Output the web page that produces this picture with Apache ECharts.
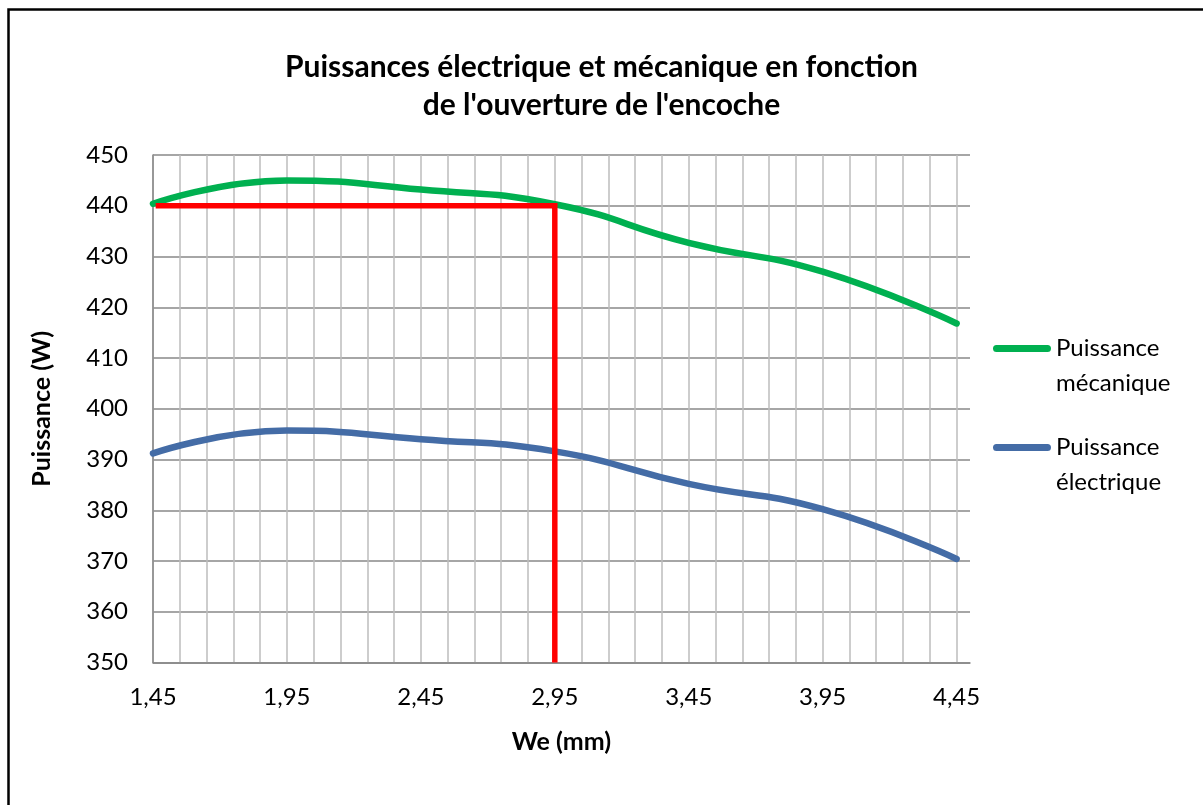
<!DOCTYPE html>
<html>
<head>
<meta charset="utf-8">
<title>Puissances électrique et mécanique</title>
<script src="https://cdn.jsdelivr.net/npm/echarts@6/dist/echarts.min.js"></script>
<style>
  html, body { margin: 0; padding: 0; background: #ffffff; }
  #chart { width: 1203px; height: 805px; }
</style>
</head>
<body>
<div id="chart"></div>
<script>
// Slot opening We (mm) and the two measured power curves (W)
const openings = [1.45, 1.95, 2.45, 2.95, 3.45, 3.95, 4.45];
const puissanceMecanique = [440.4, 445.0, 443.2, 440.3, 432.7, 427.0, 416.8];
const puissanceElectrique = [391.2, 395.7, 394.0, 391.6, 385.2, 380.2, 370.4];

// Operating point guide (red): horizontal at 440 W up to We = 2,95 mm, then down to the axis
const guideX = [1.46, 2.95, 2.95];
const guideY = [440, 440, 350];

// Axis ticks
const xTickValues = [1.45, 1.95, 2.45, 2.95, 3.45, 3.95, 4.45];
const xTickLabels = ['1,45', '1,95', '2,45', '2,95', '3,45', '3,95', '4,45'];
const yTickValues = [350, 360, 370, 380, 390, 400, 410, 420, 430, 440, 450];

const seriesNames = ['Puissance\nmécanique', 'Puissance\nélectrique'];
const seriesColors = ['#00b050', '#446ca6'];
const titleText = "Puissances électrique et mécanique en fonction\nde l'ouverture de l'encoche";

const FONT = 'Lato, "Open Sans", sans-serif';

// pill-shaped legend key, like a thick line with round ends
const PILL = 'path://M3.5,0 L54.5,0 A3.5,3.5 0 0 1 54.5,7 L3.5,7 A3.5,3.5 0 0 1 3.5,0 Z';

const pairs = (xs, ys) => xs.map((x, i) => [x, ys[i]]);

const chart = echarts.init(document.getElementById('chart'), null, { renderer: 'canvas' });

chart.setOption({
  animation: false,
  backgroundColor: '#ffffff',
  title: {
    text: titleText,
    left: 'center',
    top: 43,
    textStyle: {
      fontFamily: FONT,
      fontWeight: 'bold',
      fontSize: 30,
      lineHeight: 38,
      color: '#000000'
    }
  },
  legend: {
    orient: 'vertical',
    left: 993,
    top: 296,
    padding: 0,
    itemWidth: 58,
    itemHeight: 7,
    itemGap: -6,
    icon: PILL,
    data: seriesNames.map((n, i) => ({ name: n, itemStyle: { color: seriesColors[i] } })),
    // a leading blank line keeps the key level with the first text line
    formatter: function (name) { return '\n' + name; },
    textStyle: {
      fontFamily: FONT,
      fontSize: 24,
      lineHeight: 35,
      color: '#000000'
    }
  },
  grid: {
    left: 153,
    right: 233,
    top: 155,
    bottom: 142.5,
    containLabel: false
  },
  xAxis: {
    type: 'value',
    min: 1.45,
    max: 4.5,
    interval: 0.05,
    name: 'We (mm)',
    nameLocation: 'middle',
    nameGap: 67,
    nameTextStyle: {
      fontFamily: FONT,
      fontWeight: 'bold',
      fontSize: 25,
      color: '#000000'
    },
    axisLine: { show: true, onZero: false, lineStyle: { color: '#868686', width: 1.5 } },
    axisTick: { show: false },
    axisLabel: {
      fontFamily: FONT,
      fontSize: 24,
      color: '#000000',
      margin: 23,
      showMaxLabel: true,
      formatter: function (v) {
        for (let i = 0; i < xTickValues.length; i++) {
          if (Math.abs(v - xTickValues[i]) < 1e-6) return xTickLabels[i];
        }
        return '';
      }
    },
    splitLine: {
      show: true,
      // every other 0.05 step gives the 0.1 mm grid; the 4,50 edge stays blank
      lineStyle: { color: ['#bdbdbd', 'rgba(0,0,0,0)'], width: 1.5 }
    }
  },
  yAxis: {
    type: 'value',
    min: yTickValues[0],
    max: yTickValues[yTickValues.length - 1],
    interval: 10,
    name: 'Puissance (W)',
    nameLocation: 'middle',
    nameGap: 99,
    nameRotate: 90,
    nameTextStyle: {
      fontFamily: FONT,
      fontWeight: 'bold',
      fontSize: 25,
      color: '#000000'
    },
    axisLine: { show: true, lineStyle: { color: '#868686', width: 1.5 } },
    axisTick: { show: false },
    axisLabel: {
      fontFamily: FONT,
      fontSize: 24,
      color: '#000000',
      margin: 25
    },
    splitLine: { show: true, lineStyle: { color: '#898989', width: 1.5 } }
  },
  series: [
    {
      name: seriesNames[0],
      type: 'line',
      data: pairs(openings, puissanceMecanique),
      smooth: 0.5,
      symbol: 'none',
      showSymbol: false,
      color: seriesColors[0],
      lineStyle: { color: seriesColors[0], width: 6.5, cap: 'round', join: 'round' },
      z: 3
    },
    {
      name: seriesNames[1],
      type: 'line',
      data: pairs(openings, puissanceElectrique),
      smooth: 0.5,
      symbol: 'none',
      showSymbol: false,
      color: seriesColors[1],
      lineStyle: { color: seriesColors[1], width: 6.5, cap: 'round', join: 'round' },
      z: 3
    },
    {
      name: 'guide',
      type: 'line',
      data: pairs(guideX, guideY),
      smooth: false,
      symbol: 'none',
      showSymbol: false,
      color: '#ff0000',
      lineStyle: { color: '#ff0000', width: 5.5, cap: 'butt', join: 'miter' },
      z: 4,
      silent: true
    }
  ],
  graphic: [
    {
      type: 'rect',
      left: 6,
      top: 7,
      shape: { x: 0, y: 0, width: 1210, height: 810 },
      style: { fill: 'none', stroke: '#000000', lineWidth: 2.5 },
      silent: true,
      z: 10
    }
  ]
});
</script>
</body>
</html>
